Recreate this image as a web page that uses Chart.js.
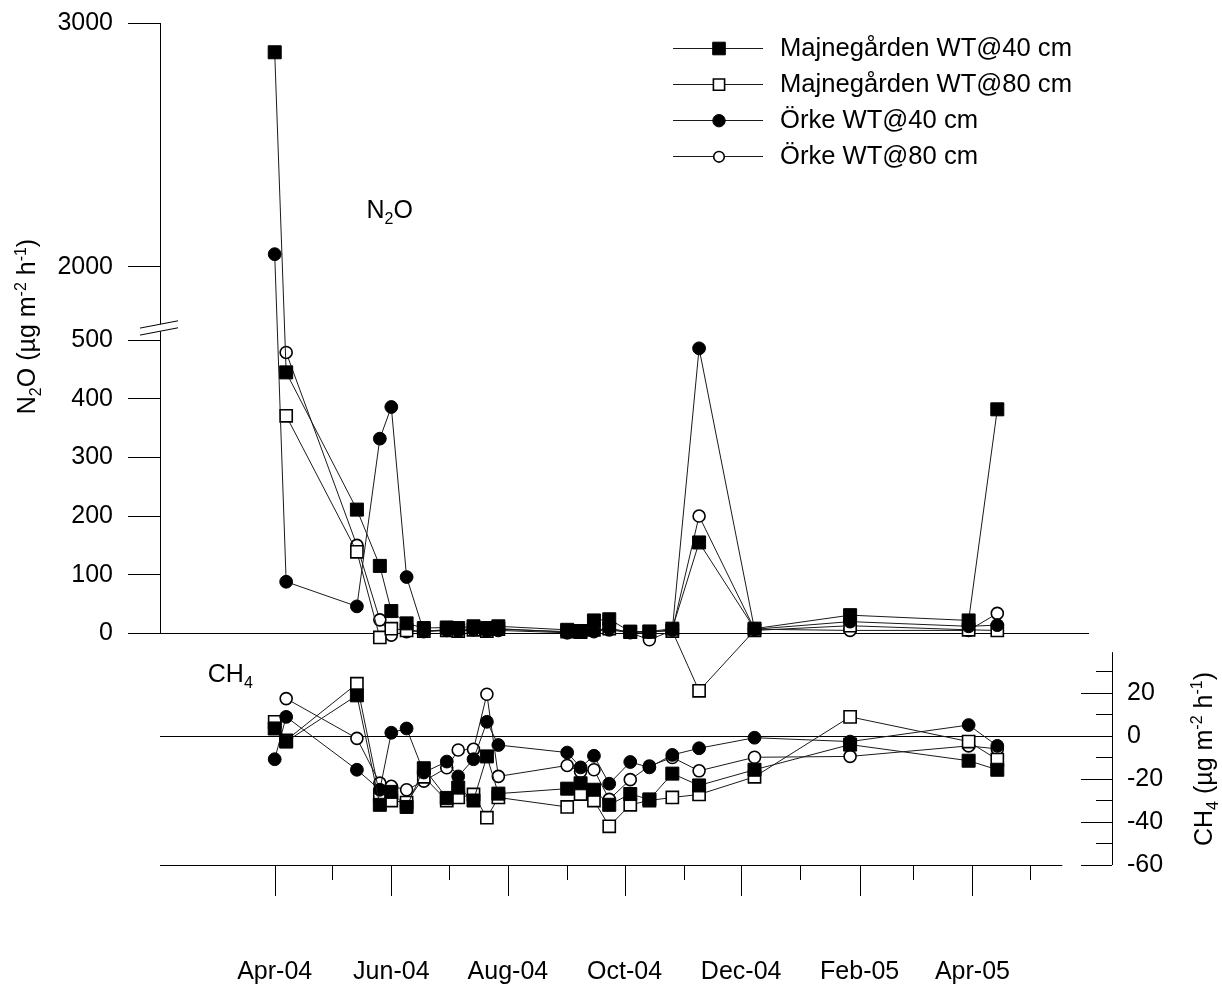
<!DOCTYPE html>
<html><head><meta charset="utf-8">
<script src="https://cdn.jsdelivr.net/npm/chart.js@4.4.1/dist/chart.umd.min.js"></script>
<style>html,body{margin:0;padding:0;background:#fff}#wrap{width:1222px;height:987px;position:relative}</style>
</head><body><div id="wrap"><canvas id="c" width="1222" height="987"></canvas></div>
<script>
// ---------------- data ----------------
const sampleDates = ['2004-04-01','2004-04-07','2004-05-14','2004-05-26','2004-06-01','2004-06-09','2004-06-18','2004-06-30','2004-07-06','2004-07-14','2004-07-21','2004-07-27','2004-09-01','2004-09-08','2004-09-15','2004-09-23','2004-10-04','2004-10-14','2004-10-26','2004-11-09','2004-12-08','2005-01-27','2005-03-30','2005-04-14'];
const seriesNames = ['Majnegården WT@40 cm','Majnegården WT@80 cm','Örke WT@40 cm','Örke WT@80 cm'];
// N2O (µg m-2 h-1)
const n2oM40 = [2880, 445, 211, 115, 38, 17, 9, 10, 9, 12, 9, 12, 6, 4, 22, 24, 3, 3, 8, 155, 8, 31, 22, 382];
const n2oM80 = [null, 371, 139, -7, 8, 5, 4, 5, 4, 6, 4, 7, 3, 2, 6, 8, 2, 3, 4, -98, 5, 13, 6, 5];
const n2oO40 = [2052, 88, 46, 332, 386, 96, 3, 5, 4, 6, 4, 5, 1, 2, 3, 8, 2, 2, 6, 486, 7, 20, 12, 14];
const n2oO80 = [null, 479, 150, 23, -3, 3, 4, 6, 5, 7, 6, 8, 2, 3, 4, 6, 1, -11, 5, 200, 7, 5, 5, 34];
// CH4 (µg m-2 h-1)
const ch4M40 = [3.5, -2.6, 18.9, -32, -26, -33, -15, -28.8, -24, -30, -9.5, -26.8, -24.5, -22, -25, -32, -27, -29.5, -17.5, -23, -15.7, -4, -11.5, -15.7];
const ch4M80 = [6.6, -2, 24.3, -28, -30, -31, -19, -30, -28.6, -27.2, -38, -28.6, -33, -27, -30, -42, -32, -30, -28.6, -27.2, -19, 8.9, -2.6, -11];
const ch4O40 = [-10.8, 8.9, -15.7, -25, 1.5, 3.5, -17, -11.9, -18.8, -10.8, 6.6, -4.2, -7.7, -14.6, -9.2, -22.2, -12.1, -14.6, -8.8, -5.7, -0.8, -2.6, 5.1, -4.6];
const ch4O80 = [null, 17.4, -1.1, -21.9, -23.4, -25, -21, -14.8, -6.5, -6.2, 19.4, -18.8, -13.7, -16.5, -15.7, -29.5, -20.3, -14, -10, -16.2, -9.9, -9.5, -4.6, -6];
// ticks
const monthTicks = ['2004-04-01','2004-05-01','2004-06-01','2004-07-01','2004-08-01','2004-09-01','2004-10-01','2004-11-01','2004-12-01','2005-01-01','2005-02-01','2005-03-01','2005-04-01','2005-05-01'];
const tickLabels = ['Apr-04','Jun-04','Aug-04','Oct-04','Dec-04','Feb-05','Apr-05'];
const n2oTicks = [0, 100, 200, 300, 400, 500, 2000, 3000];
const ch4Ticks = [-60, -40, -20, 0, 20];
const ch4MinorTicks = [-50, -30, -10, 10, 30];

// ---------------- setup ----------------
const FAM = '"Liberation Sans", Arial, Helvetica, sans-serif';
const FS = 25;
const day = s => (Date.parse(s + 'T00:00:00Z') - Date.parse('2004-04-01T00:00:00Z')) / 864e5;
const labelDays = monthTicks.filter((_, i) => i % 2 === 0).map(day);
const BREAK = { low: 521, high: 1750, fraction: 0.362 };

class BrokenScale extends Chart.LinearScale {
  buildTicks() { return n2oTicks.map(v => ({ value: v })); }
  getPixelForValue(v) {
    if (v === null || v === undefined || isNaN(v)) return NaN;
    const t = this.top, b = this.bottom;
    const bp = t + (b - t) * BREAK.fraction;
    if (v >= BREAK.high) return t + (this.max - v) / (this.max - BREAK.high) * (bp - t);
    return bp + (BREAK.low - v) / (BREAK.low - this.min) * (b - bp);
  }
  getValueForPixel(p) {
    const t = this.top, b = this.bottom;
    const bp = t + (b - t) * BREAK.fraction;
    if (p <= bp) return this.max - (p - t) / (bp - t) * (this.max - BREAK.high);
    return BREAK.low - (p - bp) / (b - bp) * (BREAK.low - this.min);
  }
}
BrokenScale.id = 'broken';
BrokenScale.defaults = Chart.LinearScale.defaults;
Chart.register(BrokenScale);

const mk = vals => sampleDates.map((d, i) => ({ x: day(d), y: vals[i] }));
const styles = [
  { pointStyle: 'rect', pointRadius: 9.2, pointBackgroundColor: '#000', pointBorderWidth: 1, order: 0 },
  { pointStyle: 'rect', pointRadius: 8.6, pointBackgroundColor: '#fff', pointBorderWidth: 1.6, order: 2 },
  { pointStyle: 'circle', pointRadius: 6.4, pointBackgroundColor: '#000', pointBorderWidth: 1, order: 1 },
  { pointStyle: 'circle', pointRadius: 6.0, pointBackgroundColor: '#fff', pointBorderWidth: 1.6, order: 3 }
];
const common = { showLine: true, spanGaps: true, borderColor: '#1a1a1a', borderWidth: 1, pointBorderColor: '#000', tension: 0, fill: false, clip: false, pointHoverRadius: 0 };
const n2oSets = [n2oM40, n2oM80, n2oO40, n2oO80];
const ch4Sets = [ch4M40, ch4M80, ch4O40, ch4O80];
const datasets = [];
n2oSets.forEach((v, i) => datasets.push(Object.assign({}, common, styles[i], { label: seriesNames[i] + ' N2O', data: mk(v), yAxisID: 'yN' })));
ch4Sets.forEach((v, i) => datasets.push(Object.assign({}, common, styles[i], { label: seriesNames[i] + ' CH4', data: mk(v), yAxisID: 'yC' })));

// ---------------- drawing helpers ----------------
function hline(ctx, x1, x2, y) { y = Math.round(y) + 0.5; ctx.beginPath(); ctx.moveTo(x1, y); ctx.lineTo(x2, y); ctx.stroke(); }
function vline(ctx, x, y1, y2) { x = Math.round(x) + 0.5; ctx.beginPath(); ctx.moveTo(x, y1); ctx.lineTo(x, y2); ctx.stroke(); }
function richWidth(ctx, parts) {
  let w = 0;
  for (const p of parts) { ctx.font = (p.s ? Math.round(FS * 0.64) : FS) + 'px ' + FAM; w += ctx.measureText(p.t).width; }
  return w;
}
function drawRich(ctx, parts, x, y) {
  let cx = x;
  ctx.textAlign = 'left'; ctx.textBaseline = 'alphabetic';
  for (const p of parts) {
    ctx.font = (p.s ? Math.round(FS * 0.64) : FS) + 'px ' + FAM;
    const dy = p.s === 'sub' ? FS * 0.24 : p.s === 'sup' ? -FS * 0.38 : 0;
    ctx.fillText(p.t, cx, y + dy);
    cx += ctx.measureText(p.t).width;
  }
}
const unitParts = [{ t: ' (µg m' }, { t: '-2', s: 'sup' }, { t: ' h' }, { t: '-1', s: 'sup' }, { t: ')' }];
const n2oTitle = [{ t: 'N' }, { t: '2', s: 'sub' }, { t: 'O' }].concat(unitParts);
const ch4Title = [{ t: 'CH' }, { t: '4', s: 'sub' }].concat(unitParts);
const noPad = s => { s.paddingTop = 0; s.paddingBottom = 0; s.paddingLeft = 0; s.paddingRight = 0; };

const decor = {
  id: 'decor',
  beforeDatasetsDraw(chart) {
    const { ctx, chartArea: a, scales: { x, yN, yC } } = chart;
    ctx.save();
    ctx.strokeStyle = '#000'; ctx.lineWidth = 1;
    const bp = yN.top + (yN.bottom - yN.top) * BREAK.fraction;
    vline(ctx, a.left, yN.getPixelForValue(3000), bp - 3.5);
    vline(ctx, a.left, bp + 3.5, yN.getPixelForValue(0));
    for (const off of [-3.5, 3.5]) {
      ctx.beginPath(); ctx.moveTo(a.left - 20, bp + off + 3.8); ctx.lineTo(a.left + 18, bp + off - 3.5); ctx.stroke();
    }
    hline(ctx, a.left, x.getPixelForValue(day('2005-06-01')), yN.getPixelForValue(0));
    hline(ctx, a.left, a.right, yC.getPixelForValue(0));
    hline(ctx, a.left, x.getPixelForValue(day('2005-05-18')), a.bottom);
    monthTicks.forEach((m, i) => vline(ctx, x.getPixelForValue(day(m)), a.bottom, a.bottom + (i % 2 === 0 ? 31 : 15)));
    vline(ctx, a.right, yC.getPixelForValue(39), a.bottom);
    ch4Ticks.forEach(v => hline(ctx, a.right - 31, a.right, yC.getPixelForValue(v)));
    ch4MinorTicks.forEach(v => hline(ctx, a.right - 16, a.right, yC.getPixelForValue(v)));
    ctx.restore();
  },
  afterDraw(chart) {
    const { ctx, scales: { x, yN, yC } } = chart;
    ctx.save();
    ctx.fillStyle = '#000';
    // legend
    seriesNames.forEach((name, i) => {
      const y = 48.5 + i * 36.1;
      ctx.strokeStyle = '#1a1a1a'; ctx.lineWidth = 1;
      hline(ctx, 673, 763, y - 0.5);
      const st = styles[i];
      ctx.fillStyle = st.pointBackgroundColor; ctx.strokeStyle = '#000'; ctx.lineWidth = st.pointBorderWidth;
      ctx.beginPath();
      if (st.pointStyle === 'rect') { const h = i === 0 ? 6.3 : 5.6; ctx.rect(719 - h, y - h, 2 * h, 2 * h); }
      else { ctx.arc(719, y, i === 2 ? 6.2 : 5.3, 0, Math.PI * 2); }
      ctx.fill(); ctx.stroke();
      ctx.fillStyle = '#000';
      ctx.font = '25.6px ' + FAM; ctx.textAlign = 'left'; ctx.textBaseline = 'middle';
      ctx.fillText(name, 780, y);
    });
    // inline labels
    drawRich(ctx, [{ t: 'N' }, { t: '2', s: 'sub' }, { t: 'O' }], x.getPixelForValue(day('2004-05-19')), yN.getPixelForValue(2200));
    drawRich(ctx, [{ t: 'CH' }, { t: '4', s: 'sub' }], x.getPixelForValue(day('2004-02-26')), yC.getPixelForValue(25));
    // axis titles
    let w = richWidth(ctx, n2oTitle);
    ctx.save(); ctx.translate(35, 326.5); ctx.rotate(-Math.PI / 2); drawRich(ctx, n2oTitle, -w / 2, 0); ctx.restore();
    w = richWidth(ctx, ch4Title);
    ctx.save(); ctx.translate(1211.5, 759); ctx.rotate(-Math.PI / 2); drawRich(ctx, ch4Title, -w / 2, 0); ctx.restore();
    ctx.restore();
  }
};

Chart.defaults.font.family = FAM;
new Chart(document.getElementById('c'), {
  type: 'line',
  data: { datasets },
  options: {
    responsive: false, animation: false, devicePixelRatio: 1, events: [],
    layout: { padding: { top: 23, left: 0, right: 0, bottom: 0 } },
    plugins: { legend: { display: false }, tooltip: { enabled: false } },
    scales: {
      x: {
        type: 'linear', position: 'bottom', min: day('2004-02-01'), max: day('2005-06-13'),
        afterBuildTicks: s => { s.ticks = labelDays.map(v => ({ value: v })); },
        ticks: { autoSkip: false, maxRotation: 0, minRotation: 0, padding: 92, color: '#000', font: { family: FAM, size: FS }, callback: (v, i) => tickLabels[i] },
        grid: { display: false, drawTicks: false }, border: { display: false },
        afterFit: s => { s.height = 122; noPad(s); }
      },
      yN: {
        type: 'broken', position: 'left', min: -395, max: 3000,
        ticks: { autoSkip: false, padding: 15, color: '#000', font: { family: FAM, size: FS }, callback: v => String(v) },
        grid: { drawOnChartArea: false, drawTicks: true, tickLength: 32, color: '#000', lineWidth: 1 },
        border: { display: false },
        afterFit: s => { s.width = 160; noPad(s); }
      },
      yC: {
        type: 'linear', position: 'right', min: -60, max: 331.6,
        afterBuildTicks: s => { s.ticks = ch4Ticks.map(v => ({ value: v })); },
        ticks: { autoSkip: false, padding: 15, color: '#000', font: { family: FAM, size: FS }, callback: v => String(v) },
        grid: { display: false, drawTicks: false }, border: { display: false },
        afterFit: s => { s.width = 110; noPad(s); }
      }
    }
  },
  plugins: [decor]
});
</script>
</body></html>
